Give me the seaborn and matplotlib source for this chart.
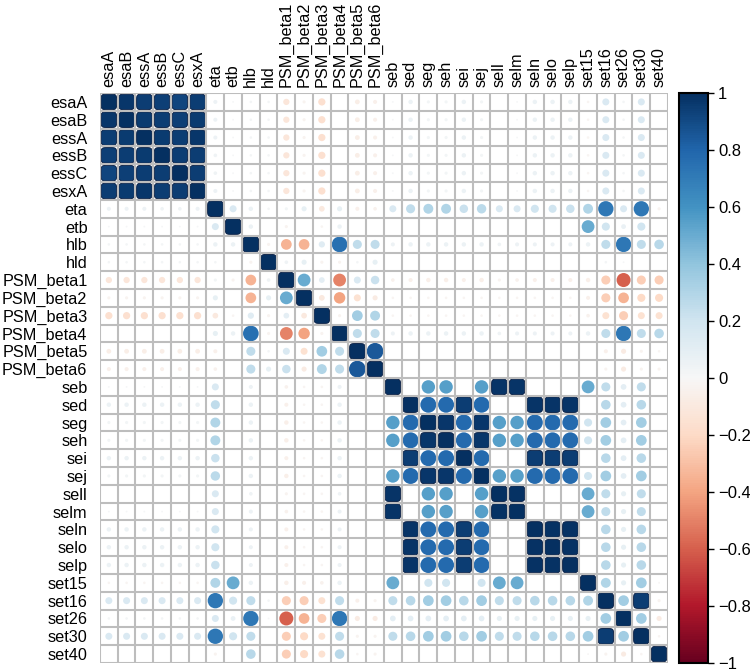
import numpy as np
import pandas as pd
import matplotlib
matplotlib.use("Agg")
import matplotlib.pyplot as plt
from matplotlib.path import Path
import seaborn as sns

labels = ["esaA", "esaB", "essA", "essB", "essC", "esxA", "eta", "etb", "hlb", "hld",
          "PSM_beta1", "PSM_beta2", "PSM_beta3", "PSM_beta4", "PSM_beta5", "PSM_beta6",
          "seb", "sed", "seg", "seh", "sei", "sej", "sell", "selm", "seln", "selo", "selp",
          "set15", "set16", "set26", "set30", "set40"]

# lower triangle of the correlation matrix, one row per variable (columns before the diagonal)
lo_esaA = []
lo_esaB = [0.97]
lo_essA = [0.95, 0.96]
lo_essB = [0.94, 0.95, 0.96]
lo_essC = [0.92, 0.94, 0.95, 0.95]
lo_esxA = [0.95, 0.96, 0.97, 0.95, 0.95]
lo_eta = [0.05, 0.05, 0.05, 0.04, 0.04, 0.05]
lo_etb = [0.01, 0.01, 0.01, 0.01, 0.01, 0.01, 0.15]
lo_hlb = [0.02, 0.02, 0.02, 0.02, 0.02, 0.02, 0.06, 0.06]
lo_hld = [0.02, 0.02, 0.02, 0.02, 0.02, 0.02, 0.02, 0.00, -0.03]
lo_b1 = [-0.12, -0.12, -0.12, -0.12, -0.12, -0.12, 0.03, -0.03, -0.35, 0.04]
lo_b2 = [-0.03, -0.03, -0.03, -0.03, -0.03, -0.03, 0.08, 0.00, -0.35, 0.08, 0.50]
lo_b3 = [-0.16, -0.16, -0.16, -0.16, -0.16, -0.16, -0.10, -0.02, 0.12, -0.03, 0.10, -0.10]
lo_b4 = [0.00, 0.00, 0.00, 0.00, 0.00, 0.00, 0.08, 0.06, 0.75, -0.03, -0.50, -0.40, -0.03]
lo_b5 = [-0.07, -0.07, -0.07, -0.07, -0.07, -0.07, -0.05, 0.00, 0.25, 0.02, 0.15, -0.15, 0.35, 0.25]
lo_b6 = [-0.05, -0.05, -0.05, -0.05, -0.05, -0.05, -0.04, 0.00, 0.25, 0.08, 0.22, -0.08, 0.30, 0.25, 0.85]
lo_seb = [0.01, 0.01, 0.01, 0.01, 0.01, 0.01, 0.15, 0.00, 0.05, 0.00, -0.04, -0.02, -0.02, 0.05, 0.00, 0.00]
lo_sed = [0.06, 0.06, 0.06, 0.06, 0.06, 0.06, 0.25, 0.00, 0.06, 0.00, -0.05, -0.02, -0.02, 0.06, 0.00, 0.00,
          0.00]
lo_seg = [0.03, 0.03, 0.03, 0.03, 0.03, 0.03, 0.30, 0.00, 0.06, 0.00, -0.06, -0.02, -0.02, 0.06, 0.00, 0.00,
          0.55, 0.78]
lo_seh = [0.03, 0.03, 0.03, 0.03, 0.03, 0.03, 0.30, 0.00, 0.06, 0.00, -0.06, -0.02, -0.02, 0.06, 0.00, 0.00,
          0.55, 0.78, 0.97]
lo_sei = [0.06, 0.06, 0.06, 0.06, 0.06, 0.06, 0.22, 0.00, 0.06, 0.00, -0.05, -0.02, -0.02, 0.06, 0.00, 0.00,
          0.00, 0.95, 0.78, 0.78]
lo_sej = [0.03, 0.03, 0.03, 0.03, 0.03, 0.03, 0.27, 0.00, 0.06, 0.00, -0.06, -0.02, -0.02, 0.06, 0.00, 0.00,
          0.55, 0.78, 0.97, 0.97, 0.78]
lo_sell = [0.00, 0.00, 0.00, 0.00, 0.00, 0.00, 0.15, 0.00, 0.04, 0.00, -0.03, -0.02, -0.02, 0.04, 0.00, 0.00,
           0.98, 0.00, 0.55, 0.55, 0.00, 0.55]
lo_selm = [0.01, 0.01, 0.01, 0.01, 0.01, 0.01, 0.15, 0.00, 0.05, 0.00, -0.04, -0.02, -0.02, 0.05, 0.00, 0.00,
           0.98, 0.00, 0.55, 0.55, 0.00, 0.55, 0.99]
lo_seln = [0.06, 0.06, 0.06, 0.06, 0.06, 0.06, 0.20, 0.00, 0.05, 0.00, -0.05, -0.02, -0.02, 0.05, 0.00, 0.00,
           0.00, 0.98, 0.78, 0.78, 0.95, 0.78, 0.00, 0.00]
lo_selo = [0.06, 0.06, 0.06, 0.06, 0.06, 0.06, 0.20, 0.00, 0.05, 0.00, -0.05, -0.02, -0.02, 0.05, 0.00, 0.00,
           0.00, 0.98, 0.78, 0.78, 0.95, 0.78, 0.00, 0.00, 0.99]
lo_selp = [0.06, 0.06, 0.06, 0.06, 0.06, 0.06, 0.22, 0.00, 0.05, 0.00, -0.05, -0.02, -0.02, 0.05, 0.00, 0.00,
           0.00, 0.98, 0.78, 0.78, 0.95, 0.78, 0.00, 0.00, 0.99, 0.99]
lo_set15 = [-0.02, -0.02, -0.02, -0.02, -0.02, -0.02, 0.30, 0.50, 0.06, 0.00, -0.06, -0.05, -0.04, 0.06, 0.00, 0.00,
            0.50, 0.00, 0.20, 0.20, 0.00, 0.20, 0.50, 0.50, 0.00, 0.00, 0.00]
lo_set16 = [0.15, 0.15, 0.15, 0.15, 0.15, 0.15, 0.72, 0.20, 0.25, 0.02, -0.25, -0.25, -0.15, 0.25, -0.05, -0.03,
            0.25, 0.28, 0.35, 0.35, 0.28, 0.35, 0.25, 0.25, 0.28, 0.28, 0.28, 0.30]
lo_set26 = [0.02, 0.02, 0.02, 0.02, 0.02, 0.02, 0.15, 0.07, 0.72, 0.01, -0.60, -0.35, -0.25, 0.72, -0.08, -0.08,
            0.10, 0.10, 0.10, 0.10, 0.10, 0.10, 0.08, 0.08, 0.08, 0.08, 0.08, 0.08, 0.35]
lo_set30 = [0.15, 0.15, 0.15, 0.15, 0.15, 0.15, 0.72, 0.20, 0.25, 0.00, -0.25, -0.20, -0.15, 0.25, -0.03, -0.03,
            0.25, 0.28, 0.35, 0.35, 0.28, 0.35, 0.25, 0.25, 0.28, 0.28, 0.28, 0.35, 0.95, 0.35]
lo_set40 = [0.00, 0.00, 0.00, 0.00, 0.00, 0.00, -0.03, 0.00, 0.28, 0.00, -0.25, -0.20, -0.15, 0.28, -0.02, -0.03,
            0.00, 0.00, 0.00, 0.00, 0.00, 0.00, 0.00, 0.00, 0.00, 0.00, 0.00, -0.01, -0.03, -0.08, -0.02]

lower_rows = [lo_esaA, lo_esaB, lo_essA, lo_essB, lo_essC, lo_esxA, lo_eta, lo_etb, lo_hlb, lo_hld,
              lo_b1, lo_b2, lo_b3, lo_b4, lo_b5, lo_b6, lo_seb, lo_sed, lo_seg, lo_seh, lo_sei, lo_sej,
              lo_sell, lo_selm, lo_seln, lo_selo, lo_selp, lo_set15, lo_set16, lo_set26, lo_set30, lo_set40]

cbar_ticks = [1, 0.8, 0.6, 0.4, 0.2, 0, -0.2, -0.4, -0.6, -0.8, -1]
cbar_labels = ["1", "0.8", "0.6", "0.4", "0.2", "0", "\u22120.2", "\u22120.4", "\u22120.6", "\u22120.8", "\u22121"]

# build the full symmetric matrix
n = len(labels)
corr = np.eye(n)
for i, row in enumerate(lower_rows):
    for j, v in enumerate(row):
        corr[i, j] = v
        corr[j, i] = v

rr, cc = np.meshgrid(np.arange(n), np.arange(n), indexing="ij")
df = pd.DataFrame({"row": rr.ravel(), "col": cc.ravel(), "r": corr.ravel()})
df["absr"] = df["r"].abs()

plt.rcParams["font.family"] = ["Liberation Sans", "DejaVu Sans"]

fig = plt.figure(figsize=(7.5, 6.72), dpi=100)
ax = fig.add_axes([0.1333, 0.0134, 0.7573, 0.8482])
cax = fig.add_axes([0.9053, 0.0134, 0.039, 0.8482])

small = df[df["absr"] < 0.9]
big = df[df["absr"] >= 0.9]

sns.scatterplot(data=small, x="col", y="row", hue="r", palette="RdBu", hue_norm=(-1, 1),
                size="absr", sizes=(0, 170), size_norm=(0, 1), linewidth=0,
                legend=False, ax=ax, zorder=2)

# rounded-square marker for near-perfect correlations
t = np.linspace(0, 2 * np.pi, 120)
sx = np.sign(np.cos(t)) * np.abs(np.cos(t)) ** (2 / 5)
sy = np.sign(np.sin(t)) * np.abs(np.sin(t)) ** (2 / 5)
squircle = Path(np.column_stack([sx, sy]), closed=True)

sns.scatterplot(data=big, x="col", y="row", hue="r", palette="RdBu", hue_norm=(-1, 1),
                marker=squircle, s=125, edgecolor="#0d2348", linewidth=0.7,
                legend=False, ax=ax, zorder=3)

# grid on top, so the biggest circles are trimmed at the cell border
edges = np.arange(n + 1) - 0.5
ax.vlines(edges, -0.5, n - 0.5, color="#bdbdbd", lw=1.5, zorder=4)
ax.hlines(edges, -0.5, n - 0.5, color="#bdbdbd", lw=1.5, zorder=4)

ax.set_xlim(-0.5, n - 0.5)
ax.set_ylim(n - 0.5, -0.5)
ax.set_xticks(range(n))
ax.set_xticklabels(labels, rotation=90, fontsize=11.7)
ax.set_yticks(range(n))
ax.set_yticklabels(labels, fontsize=11.7)
ax.xaxis.tick_top()
ax.tick_params(axis="x", length=0, pad=4)
ax.tick_params(axis="y", length=0, pad=9)
ax.set_xlabel("")
ax.set_ylabel("")
for s in ax.spines.values():
    s.set_visible(False)

sm = plt.cm.ScalarMappable(cmap="RdBu", norm=plt.Normalize(-1, 1))
cb = fig.colorbar(sm, cax=cax, ticks=cbar_ticks)
cb.ax.set_yticklabels(cbar_labels, fontsize=12)
cb.outline.set_linewidth(1.5)
cb.ax.tick_params(length=4, width=1, pad=3)

fig.savefig("out.png", dpi=100)
